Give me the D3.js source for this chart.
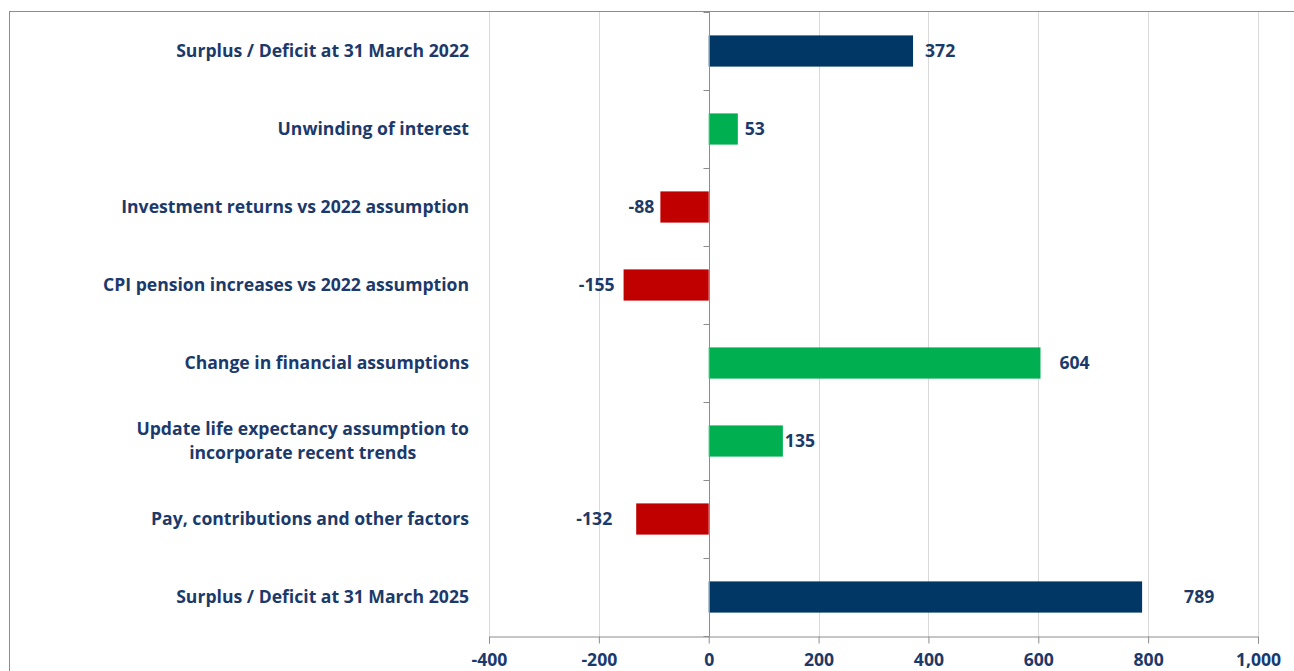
<!DOCTYPE html>
<html>
<head>
<meta charset="utf-8">
<script src="https://cdn.jsdelivr.net/npm/d3@7"></script>
<style>
  body { margin: 0; background: #fff; }
  text { font-family: "Open Sans", Lato, sans-serif; font-weight: bold; fill: #1b3a6b; }
</style>
</head>
<body>
<div id="chart"></div>
<script>
// data
const categories = [
    "Surplus / Deficit at 31 March 2022",
    "Unwinding of interest",
    "Investment returns vs 2022 assumption",
    "CPI pension increases vs 2022 assumption",
    "Change in financial assumptions",
    "Update life expectancy assumption to|incorporate recent trends",
    "Pay, contributions and other factors",
    "Surplus / Deficit at 31 March 2025"
];
const values = [372, 53, -88, -155, 604, 135, -132, 789];
const barKind = ["total", "step", "step", "step", "step", "step", "step", "total"];
const xTicks = [-400, -200, 0, 200, 400, 600, 800, 1000];

// the value labels sit at uneven distances from the bar ends
const labelGap = [12, 7, 6, 9, 19, 2, 24, 42];

const W = 1294, H = 671;
const margin = {top: 12, left: 489, right: 36, bottom: 35};
const fontSize = "17.6px";

const svg = d3.select("#chart").append("svg")
    .attr("width", W)
    .attr("height", H);

// outer chart frame (runs past the window on the right and bottom)
svg.append("rect")
    .attr("x", 9.5).attr("y", 11.5)
    .attr("width", W + 20).attr("height", H + 20)
    .attr("fill", "#fff")
    .attr("stroke", "#8c8c8c");

const x = d3.scaleLinear()
    .domain([-400, 1000])
    .range([margin.left, W - margin.right]);

const y = d3.scaleBand()
    .domain(categories)
    .range([margin.top, H - margin.bottom])
    .paddingInner(0.6)
    .paddingOuter(0.3);

const plotTop = y.range()[0], plotBottom = y.range()[1];

// gridlines
svg.append("g")
    .selectAll("line")
    .data(xTicks.filter(d => d !== 0))
    .enter().append("line")
    .attr("x1", d => Math.round(x(d)) + 0.5)
    .attr("x2", d => Math.round(x(d)) + 0.5)
    .attr("y1", plotTop)
    .attr("y2", plotBottom)
    .attr("stroke", "#d9d9d9");

// x axis, plain hyphen for the minus like the original
const fmt = d3.formatLocale({decimal: ".", thousands: ",", grouping: [3], currency: ["", ""], minus: "-"}).format(",");
const xAxis = svg.append("g")
    .attr("transform", "translate(0," + (Math.round(plotBottom) + 0.5) + ")")
    .call(d3.axisBottom(x).tickValues(xTicks).tickSize(7).tickPadding(10).tickFormat(fmt));
xAxis.attr("font-family", null).attr("font-size", null);
xAxis.select(".domain").attr("stroke", "#8c8c8c");
xAxis.selectAll(".tick line").attr("stroke", "#8c8c8c");
xAxis.selectAll(".tick text")
    .style("font-size", fontSize)
    .attr("fill", null);

// bars
svg.append("g")
    .selectAll("rect")
    .data(values)
    .enter().append("rect")
    .attr("x", d => x(Math.min(0, d)))
    .attr("y", (d, i) => y(categories[i]))
    .attr("width", d => Math.abs(x(d) - x(0)))
    .attr("height", y.bandwidth())
    .attr("fill", (d, i) => barKind[i] === "total" ? "#003764" : (d < 0 ? "#c00000" : "#00b050"));

// category axis at zero
const x0 = Math.round(x(0)) + 0.5;
svg.append("line")
    .attr("x1", x0).attr("x2", x0)
    .attr("y1", plotTop).attr("y2", plotBottom)
    .attr("stroke", "#8c8c8c");
const bounds = categories.map(c => y(c) - y.step() * y.paddingInner() / 2).concat([plotBottom]);
bounds[0] = plotTop;
svg.append("g")
    .selectAll("line")
    .data(bounds)
    .enter().append("line")
    .attr("x1", x0 - 6).attr("x2", x0)
    .attr("y1", d => Math.round(d) + 0.5)
    .attr("y2", d => Math.round(d) + 0.5)
    .attr("stroke", "#8c8c8c");

// category labels: right aligned block, lines centred within it
const labelRight = 469;
const catG = svg.append("g");
categories.forEach(function (c) {
    const lines = c.split("|");
    const cy = y(c) + y.bandwidth() / 2;
    const t = catG.append("text")
        .style("font-size", fontSize);
    lines.forEach(function (l, j) {
        t.append("tspan")
            .attr("y", cy + (j - (lines.length - 1) / 2) * 24)
            .attr("dy", "0.35em")
            .text(l);
    });
    const spans = t.selectAll("tspan").nodes();
    const maxW = d3.max(spans, s => s.getComputedTextLength());
    spans.forEach(function (s) {
        d3.select(s)
            .attr("x", labelRight - maxW / 2)
            .attr("text-anchor", "middle");
    });
});

// value labels
svg.append("g")
    .selectAll("text")
    .data(values)
    .enter().append("text")
    .attr("x", (d, i) => d < 0 ? x(d) - labelGap[i] : x(d) + labelGap[i])
    .attr("y", (d, i) => y(categories[i]) + y.bandwidth() / 2)
    .attr("dy", "0.35em")
    .attr("text-anchor", d => d < 0 ? "end" : "start")
    .style("font-size", fontSize)
    .text(d => fmt(d));
</script>
</body>
</html>
